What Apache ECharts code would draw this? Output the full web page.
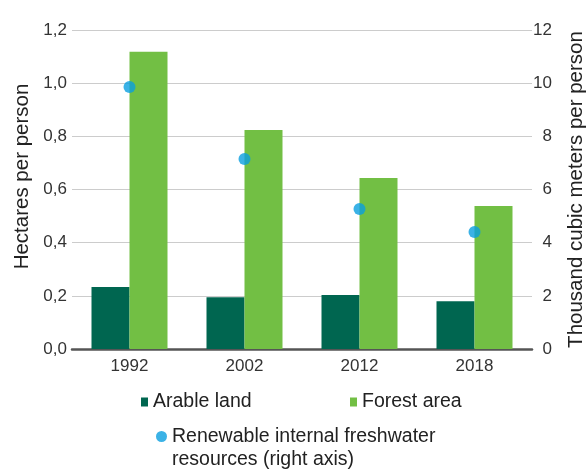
<!DOCTYPE html>
<html><head><meta charset="utf-8">
<script src="https://cdn.jsdelivr.net/npm/echarts@6/dist/echarts.min.js"></script>
<style>html,body{margin:0;padding:0;background:#fff}#c{width:587px;height:469px}</style>
</head><body><div id="c"></div>
<script>
const categories = ['1992', '2002', '2012', '2018'];
const arableLand = [0.233, 0.195, 0.203, 0.180];
const forestArea = [1.118, 0.824, 0.643, 0.538];
const freshwater = [9.86, 7.15, 5.27, 4.40];
const leftTicks = { min: 0, max: 1.2, interval: 0.2 };
const rightTicks = { min: 0, max: 12, interval: 2 };

const FONT = "'Liberation Sans Narrow', 'Liberation Sans', Arial, sans-serif";
const chart = echarts.init(document.getElementById('c'), null, { renderer: 'canvas' });
const fmt = v => v.toFixed(1).replace('.', ',');
chart.setOption({
  animation: false,
  textStyle: { fontFamily: FONT },
  grid: { left: 72, right: 55, top: 30, bottom: 120, containLabel: false, outerBoundsMode: 'none' },
  xAxis: {
    type: 'category', data: categories,
    axisLine: { lineStyle: { color: '#555', width: 2.5 } },
    axisTick: { show: false },
    axisLabel: { color: '#333', fontSize: 17, fontFamily: FONT, margin: 9 }
  },
  yAxis: [
    {
      type: 'value', min: leftTicks.min, max: leftTicks.max, interval: leftTicks.interval,
      name: 'Hectares per person', nameLocation: 'middle', nameGap: 37, nameRotate: 90,
      nameTextStyle: { color: '#222', fontSize: 20.5, fontFamily: FONT, padding: [0, 0, 0, 26] },
      axisLine: { show: false }, axisTick: { show: false },
      axisLabel: { color: '#333', fontSize: 17, fontFamily: FONT, margin: 5, formatter: fmt },
      splitLine: { lineStyle: { color: '#ccc', width: 1 } }
    },
    {
      type: 'value', min: rightTicks.min, max: rightTicks.max, interval: rightTicks.interval,
      name: 'Thousand cubic meters per person', nameLocation: 'middle', nameGap: 34, nameRotate: 90,
      nameTextStyle: { color: '#222', fontSize: 20.5, fontFamily: FONT },
      axisLine: { show: false }, axisTick: { show: false },
      axisLabel: { color: '#333', fontSize: 17, fontFamily: FONT, margin: 20, align: 'right' },
      splitLine: { show: false }
    }
  ],
  legend: [
    {
      data: ['Arable land'], left: 141, top: 392, padding: 0, icon: 'rect', itemWidth: 7, itemHeight: 9, itemGap: 5,
      textStyle: { color: '#222', fontSize: 19.5, fontFamily: FONT }
    },
    {
      data: ['Forest area'], left: 350, top: 392, padding: 0, icon: 'rect', itemWidth: 7, itemHeight: 9, itemGap: 5,
      textStyle: { color: '#222', fontSize: 19.5, fontFamily: FONT }
    },
    {
      data: ['Renewable internal freshwater resources (right axis)'], left: 156, top: 402, padding: 0,
      icon: 'circle', itemWidth: 11, itemHeight: 11,
      formatter: n => '\n' + n.replace(' resources', '\nresources'),
      textStyle: { color: '#222', fontSize: 19.5, fontFamily: FONT, lineHeight: 23 }
    }
  ],
  series: [
    { name: 'Arable land', type: 'bar', data: arableLand, barWidth: 38, barGap: '0%',
      itemStyle: { color: '#006650' } },
    { name: 'Forest area', type: 'bar', data: forestArea, barWidth: 38, barGap: '0%',
      itemStyle: { color: '#72bf44' } },
    { name: 'Renewable internal freshwater resources (right axis)', type: 'scatter', yAxisIndex: 1,
      data: freshwater, symbol: 'circle', symbolSize: 12, z: 5,
      itemStyle: { color: '#0a9fe0' } }
  ]
});
</script></body></html>
